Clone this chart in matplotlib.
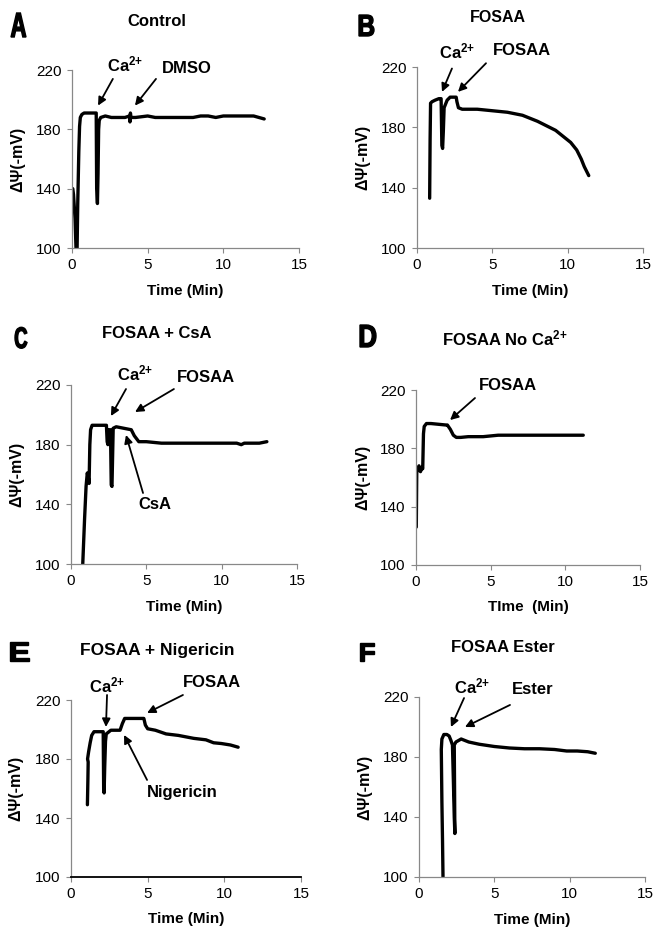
import numpy as np
import matplotlib
matplotlib.use("Agg")
import matplotlib.pyplot as plt
from matplotlib.textpath import TextPath
from matplotlib.patches import PathPatch
from matplotlib.font_manager import FontProperties
from matplotlib.transforms import Affine2D

plt.rcParams['font.family'] = ['Liberation Sans', 'DejaVu Sans']
plt.rcParams['mathtext.fontset'] = 'custom'
plt.rcParams['mathtext.rm'] = 'Liberation Sans:bold'
plt.rcParams['mathtext.bf'] = 'Liberation Sans:bold'
plt.rcParams['mathtext.default'] = 'rm'

# traces: time (min) and delta psi (-mV)
A_t = [0.05, 0.1, 0.2, 0.28, 0.33, 0.38, 0.45, 0.5, 0.55, 0.65, 0.8, 1.2, 1.6, 1.63, 1.68, 1.72,
       1.76, 1.8, 1.9, 2.2, 2.6, 3.0, 3.5, 3.8, 3.83, 3.86, 3.9, 4.2, 5.0, 5.5, 6.5, 8.0, 8.5, 9.0,
       9.5, 10.0, 11.0, 12.0, 12.7]
A_v = [140, 136, 120, 95, 95, 130, 165, 182, 188, 190, 191, 191, 191, 140, 130, 150,
       180, 186, 188, 189, 188, 188, 188, 189, 185, 191, 188, 188, 189, 188, 188, 188, 189, 189,
       188, 189, 189, 189, 187]

B_t = [0.84, 0.87, 0.9, 1.0, 1.2, 1.45, 1.6, 1.65, 1.7, 1.75, 1.8, 2.0, 2.2, 2.6, 2.65, 2.75, 3.0,
       4.0, 5.0, 6.0, 7.0, 7.5, 8.0, 8.6, 9.2, 9.7, 10.2, 10.6, 10.9, 11.1, 11.4]
B_v = [133, 172, 196, 197, 198, 199, 199, 168, 166, 178, 193, 198, 200, 200, 197, 193, 192,
       192, 191, 190, 188, 186, 184, 181, 178, 174, 170, 165, 159, 154, 148]

C_t = [0.78, 0.9, 1.0, 1.08, 1.15, 1.2, 1.25, 1.3, 1.4, 1.6, 2.0, 2.35, 2.4, 2.45, 2.5, 2.55, 2.62,
       2.67, 2.72, 2.8, 3.0, 3.5, 4.0, 4.2, 4.5, 5.0, 6.0, 7.0, 9.0, 11.0, 11.3, 11.5, 12.5, 13.0]
C_v = [100, 130, 152, 161, 158, 154, 180, 190, 193, 193, 193, 193, 182, 180, 190, 190, 190,
       153, 152, 191, 192, 191, 190, 186, 182, 182, 181, 181, 181, 181, 180, 181, 181, 182]

D_t = [0.02, 0.05, 0.1, 0.2, 0.3, 0.4, 0.45, 0.5, 0.55, 0.7, 1.0, 1.5, 2.0, 2.1, 2.3, 2.5, 2.7,
       3.0, 3.5, 4.5, 5.5, 7.0, 9.0, 11.2]
D_v = [126, 163, 166, 168, 164, 167, 166, 190, 195, 197, 197, 196.5, 196, 196, 193, 189, 187.5,
       187.5, 188, 188, 189, 189, 189, 189]

E_t = [1.07, 1.1, 1.12, 1.08, 1.15, 1.25, 1.35, 1.5, 1.8, 2.1, 2.13, 2.16, 2.2, 2.25, 2.3, 2.6,
       3.0, 3.2, 3.35, 3.5, 4.0, 4.5, 4.75, 4.85, 5.0, 5.5, 6.2, 7.0, 8.0, 8.8, 9.3, 9.8, 10.4, 10.9]
E_v = [149, 165, 178, 180, 185, 191, 196, 198.5, 198.5, 198.5, 160, 157, 175, 192, 197, 199.5,
       199.5, 199.5, 204, 207.5, 207.5, 207.5, 207.5, 203, 200.5, 199.5, 197, 196, 194, 193, 191,
       190.5, 189.5, 188]

F_t = [1.6, 1.56, 1.52, 1.48, 1.52, 1.65, 1.85, 2.0, 2.12, 2.22, 2.28, 2.34, 2.38, 2.36, 2.34,
       2.45, 2.8, 3.3, 4.0, 5.0, 6.0, 7.0, 8.0, 9.0, 9.8, 10.5, 11.2, 11.7]
F_v = [95, 125, 150, 185, 192, 195, 195, 194, 191, 188, 165, 140, 129, 160, 188,
       190, 192, 190, 188.5, 187, 186, 185.5, 185.5, 185, 184, 184, 183.5, 182.5]

CA = r'$\mathrm{Ca}^{2{+}}$'
letters = ['A', 'B', 'C', 'D', 'E', 'F']
titles = ['Control', 'FOSAA', 'FOSAA + CsA', r'FOSAA No $\mathrm{Ca}^{2{+}}$', 'FOSAA + Nigericin', 'FOSAA Ester']
xlabels = ['Time (Min)', 'Time (Min)', 'Time (Min)', 'TIme  (Min)', 'Time (Min)', 'Time (Min)']
x_ticks = [0, 5, 10, 15]
y_ticks = [100, 140, 180, 220]

# annotations: (label, text pos, arrow tail, arrow tip) in data units
notes = [
    [(CA, (3.5, 224), (2.7, 214), (1.72, 196)),
     ('DMSO', (7.6, 221), (5.55, 214), (4.16, 196))],
    [(CA, (2.65, 230), (2.32, 219), (1.66, 203.5)),
     ('FOSAA', (6.97, 231), (4.58, 222.5), (2.72, 203.5))],
    [(CA, (4.25, 228), (3.65, 217.3), (2.65, 199.2)),
     ('FOSAA', (8.96, 224.7), (6.83, 217.3), (4.25, 201.9)),
     ('CsA', (5.57, 139.6), (4.78, 147.6), (3.65, 186.5))],
    [('FOSAA', (6.16, 223.4), (3.95, 214.5), (2.28, 199.4))],
    [(CA, (2.35, 230.2), (2.35, 223.4), (2.28, 201.7)),
     ('FOSAA', (9.2, 232.2), (7.3, 223.4), (4.96, 211.2)),
     ('Nigericin', (7.24, 157), (4.96, 165.8), (3.46, 196.3))],
    [(CA, (3.52, 226.7), (2.99, 219.3), (2.12, 200)),
     ('Ester', (7.56, 224.7), (6.04, 214.7), (3.05, 200))],
]

traces = [(A_t, A_v), (B_t, B_v), (C_t, C_v), (D_t, D_v), (E_t, E_v), (F_t, F_v)]

W, H = 653, 932
fig = plt.figure(figsize=(W / 100, H / 100), dpi=100)

# axes boxes in pixels: left, top, right, bottom
boxes = [(72, 70, 299, 248), (417, 67, 643, 248),
         (71, 385, 297, 564), (416, 390, 640, 565),
         (71, 700, 301, 877), (419, 697, 645, 877)]
title_pos = [(157, 21), (498, 18), (157, 333), (505, 338), (157, 650), (503, 648)]
title_size = [12, 11.5, 12, 12, 12.5, 12]
# panel letters: left, baseline, cap height, width in px
letter_box = [(11, 37, 24, 15), (359, 36, 21, 15), (15, 348, 21, 12), (360, 347, 22, 16),
              (10, 661, 19, 19), (360, 661, 18, 14)]

bold = FontProperties(family='Liberation Sans', weight='bold')

for i in range(6):
    l, t, r, b = boxes[i]
    ax = fig.add_axes([l / W, 1 - b / H, (r - l) / W, (b - t) / H])
    tt, vv = traces[i]
    ax.plot(tt, vv, color='black', lw=2.4, solid_joinstyle='round', solid_capstyle='round')
    ax.set_xlim(0, 15)
    ax.set_ylim(100, 220)
    ax.set_xticks(x_ticks)
    ax.set_yticks(y_ticks)
    for s in ['top', 'right']:
        ax.spines[s].set_visible(False)
    for s in ['left', 'bottom']:
        ax.spines[s].set_color('#888888')
        ax.spines[s].set_linewidth(0.9)
    if i == 4:
        ax.spines['bottom'].set_color('black')
        ax.spines['bottom'].set_linewidth(1.3)
    ax.tick_params(direction='out', length=3.5, width=0.8, color='#888888', labelsize=11, pad=4)
    ax.set_ylabel('ΔΨ(-mV)', fontsize=11.5, fontweight='bold')
    ax.yaxis.set_label_coords(-0.205, 0.5)
    ax.set_xlabel(xlabels[i], fontsize=11, fontweight='bold')
    ax.xaxis.set_label_coords(0.5, -0.2)

    for lab, tp, tail, tip in notes[i]:
        ax.annotate('', xy=tip, xytext=tail, annotation_clip=False,
                    arrowprops=dict(arrowstyle='-|>', color='black', lw=1.3,
                                    mutation_scale=12, shrinkA=0, shrinkB=0))
        ax.text(tp[0], tp[1], lab, ha='center', va='center', fontsize=12,
                fontweight='bold', clip_on=False)

    fig.text(title_pos[i][0] / W, 1 - title_pos[i][1] / H, titles[i], ha='center',
             va='center', fontsize=title_size[i], fontweight='bold')

    # condensed heavy panel letter drawn as a scaled glyph outline
    lx, base, capH, wid = letter_box[i]
    tp_ = TextPath((0, 0), letters[i], size=1, prop=bold)
    ext = tp_.get_extents()
    sy = capH / ext.height
    sx = wid / ext.width
    tr = Affine2D().translate(-ext.x0, 0).scale(sx, sy).translate(lx, H - base)
    fig.patches.append(PathPatch(tr.transform_path(tp_), facecolor='black', edgecolor='black',
                                 lw=1.0, transform=None, figure=fig))

fig.savefig('out.png', dpi=100)
